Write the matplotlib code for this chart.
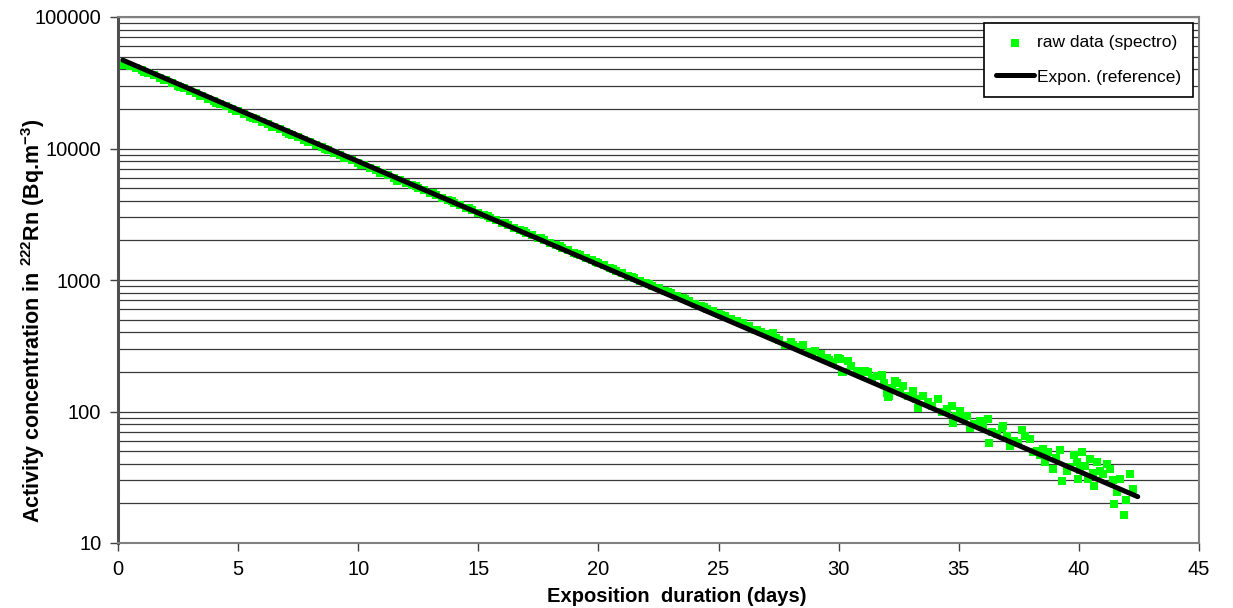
import matplotlib
matplotlib.use("Agg")
import matplotlib.pyplot as plt
from matplotlib.ticker import LogLocator, FixedLocator, NullFormatter

plt.rcParams['font.family'] = ['Liberation Sans', 'DejaVu Sans']
plt.rcParams['mathtext.fontset'] = 'custom'
plt.rcParams['mathtext.rm'] = 'Liberation Sans'
plt.rcParams['mathtext.bf'] = 'Liberation Sans:bold'

# ---- data ----
raw_days = [
    0.25, 0.5, 0.75, 1.0, 1.25, 1.5, 1.75, 2.0, 2.25, 2.5, 2.75,
    3.0, 3.25, 3.5, 3.75, 4.0, 4.25, 4.5, 4.75, 5.0, 5.25, 5.5, 5.75,
    6.0, 6.25, 6.5, 6.75, 7.0, 7.25, 7.5, 7.75, 8.0, 8.25, 8.5, 8.75,
    9.0, 9.25, 9.5, 9.75, 10.0, 10.25, 10.5, 10.75, 11.0, 11.25, 11.5, 11.75,
    12.0, 12.25, 12.5, 12.75, 13.0, 13.25, 13.5, 13.75, 14.0, 14.25, 14.5, 14.75,
    15.0, 15.25, 15.5, 15.75, 16.0, 16.25, 16.5, 16.75, 17.0, 17.25, 17.5, 17.75,
    18.0, 18.25, 18.5, 18.75, 19.0, 19.25, 19.5, 19.75, 20.0, 20.25, 20.5, 20.75,
    21.0, 21.25, 21.5, 21.75, 22.0, 22.25, 22.5, 22.75, 23.0, 23.25, 23.5, 23.75,
    24.0, 24.25, 24.5, 24.75, 25.0, 25.25, 25.5, 25.75, 26.0, 26.25, 26.5, 26.75,
    27.0, 27.25, 27.5, 27.75, 28.0, 28.25, 28.5, 28.75, 29.0, 29.25, 29.5, 29.75,
    29.99, 30.06, 30.13, 30.20, 30.40, 30.5, 30.75, 30.9, 31.1, 31.24, 31.4, 31.59,
    31.72, 31.79, 31.9, 32.0, 32.07, 32.1, 32.2, 32.35, 32.42, 32.55, 32.69, 32.9,
    33.11, 33.2, 33.32, 33.53, 33.7, 33.9, 34.15, 34.3, 34.5, 34.71, 34.78, 34.9,
    35.05, 35.2, 35.35, 35.47, 35.65, 35.89, 36.0, 36.23, 36.25, 36.4, 36.6, 36.79,
    36.83, 37.0, 37.14, 37.3, 37.45, 37.62, 37.76, 37.97, 38.09, 38.25, 38.4, 38.51,
    38.59, 38.72, 38.93, 39.05, 39.22, 39.29, 39.50, 39.65, 39.80, 39.91, 39.97, 40.05,
    40.13, 40.26, 40.38, 40.47, 40.6, 40.63, 40.75, 40.88, 41.01, 41.16, 41.30, 41.4,
    41.47, 41.58, 41.72, 41.88, 41.96, 42.13, 42.24,
    # second trace of the dense band (readings just either side of the line)
    0.4, 1.1, 1.9, 2.6, 3.4, 4.1, 4.9, 5.6, 6.4, 7.1, 7.9, 8.6, 9.4,
    10.1, 10.9, 11.6, 12.4, 13.1, 13.9, 14.6, 15.4, 16.1, 16.9, 17.6, 18.4,
    19.1, 19.9, 20.6, 21.4, 22.1, 22.9, 23.6, 24.4, 25.1, 25.9, 26.6, 27.4,
    28.1, 28.9, 29.6,
]
raw_activity = [
    43500, 42300, 40800, 39500, 37800, 36100, 34500, 33000, 31500, 30100, 28800,
    27500, 26300, 25100, 24000, 22900, 21900, 20950, 20000, 19150, 18300, 17500, 16700,
    16000, 15250, 14600, 13950, 13350, 12750, 12200, 11650, 11150, 10650, 10200, 9750,
    9320, 8910, 8520, 8150, 7800, 7460, 7130, 6820, 6530, 6250, 5980, 5720,
    5480, 5240, 5020, 4800, 4600, 4400, 4210, 4030, 3860, 3700, 3540, 3390,
    3250, 3110, 2975, 2850, 2730, 2610, 2500, 2390, 2290, 2190, 2095, 2005,
    1920, 1840, 1760, 1680, 1610, 1540, 1475, 1410, 1350, 1290, 1235, 1180,
    1130, 1080, 1035, 990, 945, 905, 865, 828, 792, 757, 724, 693,
    662, 633, 606, 580, 555, 531, 508, 486, 470, 445, 420, 405,
    390, 395, 350, 322, 335, 312, 318, 285, 290, 272, 257, 240,
    257, 250, 198, 198, 242, 222, 203, 195, 203, 198, 180, 186,
    186, 188, 165, 139, 128, 131, 152, 171, 166, 140, 156, 132,
    143, 125, 107, 131, 118, 110, 124, 100, 104, 110, 82.4, 92,
    101, 88, 92, 75.5, 80, 84.8, 76, 88.4, 58.1, 70, 68, 75.5,
    77.6, 65.2, 54.8, 60, 58, 72.4, 65.2, 61.5, 49.1, 50, 47, 51.7,
    41.2, 49.1, 36.5, 44, 51.1, 29.7, 35.4, 38, 46.6, 41.2, 30.6, 36,
    49.1, 38.6, 30.6, 43.4, 34, 27.1, 41.2, 35.4, 33.4, 39.8, 36.5, 30,
    19.8, 24.4, 30.6, 16.3, 21.3, 33.4, 25.7,
    43500, 38300, 33100, 29200, 25250, 22250, 19250, 16950, 14650, 12900, 11150, 9830, 8500,
    7490, 6480, 5710, 5150, 4560, 3980, 3520, 3070, 2720, 2350, 2080, 1800,
    1590, 1380, 1220, 1060, 935, 810, 715, 620, 545, 475, 415, 360,
    318, 275, 245,
]
fit_days = [0.2, 42.45]
fit_activity = [47000, 22.5]

x_ticks = [0, 5, 10, 15, 20, 25, 30, 35, 40, 45]
y_ticks = [10, 100, 1000, 10000, 100000]
y_tick_labels = ['10', '100', '1000', '10000', '100000']

# ---- figure ----
fig = plt.figure(figsize=(12.33, 6.08), dpi=100)
ax = fig.add_axes([118 / 1233, 1 - 543 / 608, (1199 - 118) / 1233, (543 - 17) / 608])

ax.scatter(raw_days, raw_activity, marker='s', s=30, color='#00ff00',
           linewidths=0, label='raw data (spectro)', zorder=3)
ax.plot(fit_days, fit_activity, color='black', lw=3.6, solid_capstyle='round',
        label='Expon. (reference)', zorder=4)

ax.set_yscale('log')
ax.set_xlim(0, 45)
ax.set_ylim(10, 100000)
ax.xaxis.set_major_locator(FixedLocator(x_ticks))
ax.set_xticklabels([str(v) for v in x_ticks])
ax.yaxis.set_major_locator(FixedLocator(y_ticks))
ax.set_yticklabels(y_tick_labels)
ax.yaxis.set_minor_locator(LogLocator(base=10, subs=range(2, 10)))
ax.yaxis.set_minor_formatter(NullFormatter())

ax.grid(True, which='both', axis='y', color='#3a3a3a', lw=0.9, zorder=0)
ax.set_axisbelow(True)
ax.tick_params(axis='both', which='major', labelsize=14.5, direction='out',
               length=6, width=1, color='#404040', pad=6)
ax.tick_params(axis='y', which='minor', length=0)
for s in ['top', 'right', 'bottom']:
    ax.spines[s].set_color('#808080')
    ax.spines[s].set_linewidth(1.5)
ax.spines['left'].set_color('#505050')
ax.spines['left'].set_linewidth(2.2)

fig.text(677 / 1233, 1 - 596 / 608, 'Exposition  duration (days)', fontsize=14.5,
         fontweight='bold', ha='center', va='center')
fig.text(33 / 1233, 1 - 321 / 608,
         r'Activity concentration in $^{\mathbf{222}}$Rn (Bq.m$^{\mathbf{-3}}$)',
         fontsize=15.5, fontweight='bold', ha='center', va='center', rotation=90)

leg = ax.legend(loc='upper right', bbox_to_anchor=(1193 / 1233, 1 - 23 / 608),
                bbox_transform=fig.transFigure, borderaxespad=0, fontsize=12.5,
                frameon=True, fancybox=False, edgecolor='black', framealpha=1,
                handlelength=2.2, handletextpad=0.15, labelspacing=1.1,
                borderpad=0.7, markerscale=1.0, scatterpoints=1)
leg.get_frame().set_linewidth(1.2)
leg.set_zorder(10)

fig.savefig('out.png', dpi=100)
